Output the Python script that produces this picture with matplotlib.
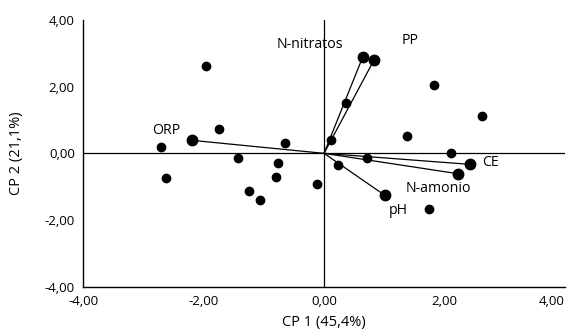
import matplotlib.pyplot as plt

# observation scores (CP1, CP2)
obs_x = [-1.96, -1.74, -2.71, -0.65, -1.43, -0.76, -2.63, -1.25, -1.06, -0.80,
         -0.11, 1.83, 2.62, 0.37, 0.12, 1.38, 2.11, 0.72, 0.24, 1.74]
obs_y = [2.63, 0.72, 0.19, 0.32, -0.13, -0.30, -0.75, -1.12, -1.41, -0.70,
         -0.93, 2.06, 1.13, 1.50, 0.39, 0.53, 0.01, -0.14, -0.35, -1.66]

# variable loadings
var_names = ['N-nitratos', 'PP', 'ORP', 'CE', 'N-amonio', 'pH']
var_x = [0.64, 0.83, -2.19, 2.42, 2.22, 1.01]
var_y = [2.88, 2.80, 0.39, -0.33, -0.61, -1.26]
# label anchor (left, vertical centre)
lab_x = [-0.78, 1.28, -2.85, 2.62, 1.36, 1.08]
lab_y = [3.26, 3.38, 0.69, -0.27, -1.05, -1.71]

ticks = [-4, -2, 0, 2, 4]
tick_labels = ['-4,00', '-2,00', '0,00', '2,00', '4,00']

plt.rcParams['font.family'] = ['Open Sans', 'DejaVu Sans']

fig = plt.figure(figsize=(5.73, 3.33), dpi=100)
ax = fig.add_axes([0.145, 0.139, 0.841, 0.801])

for vx, vy in zip(var_x, var_y):
    ax.plot([0, vx], [0, vy], color='black', linewidth=0.9, zorder=2)
ax.plot(var_x, var_y, 'o', color='black', markersize=7.5, zorder=3)
ax.plot(obs_x, obs_y, 'o', color='black', markersize=6, zorder=3)

for name, lx, ly in zip(var_names, lab_x, lab_y):
    ax.text(lx, ly, name, fontsize=10.2, ha='left', va='center')

ax.axhline(0, color='black', linewidth=0.9, zorder=1)
ax.axvline(0, color='black', linewidth=0.9, zorder=1)

ax.set_xlim(-4, 4)
ax.set_ylim(-4, 4)
ax.set_xticks(ticks)
ax.set_xticklabels(tick_labels)
ax.set_yticks(ticks)
ax.set_yticklabels(tick_labels)
ax.tick_params(length=0, labelsize=9.5, pad=6)
ax.get_xticklabels()[-1].set_ha('right')
ax.spines['top'].set_visible(False)
ax.spines['right'].set_visible(False)
for s in ['left', 'bottom']:
    ax.spines[s].set_linewidth(1.0)

ax.set_xlabel('CP 1 (45,4%)', fontsize=10.5, labelpad=5)
ax.set_ylabel('CP 2 (21,1%)', fontsize=10.5, labelpad=15)

fig.savefig('out.png', dpi=100)
